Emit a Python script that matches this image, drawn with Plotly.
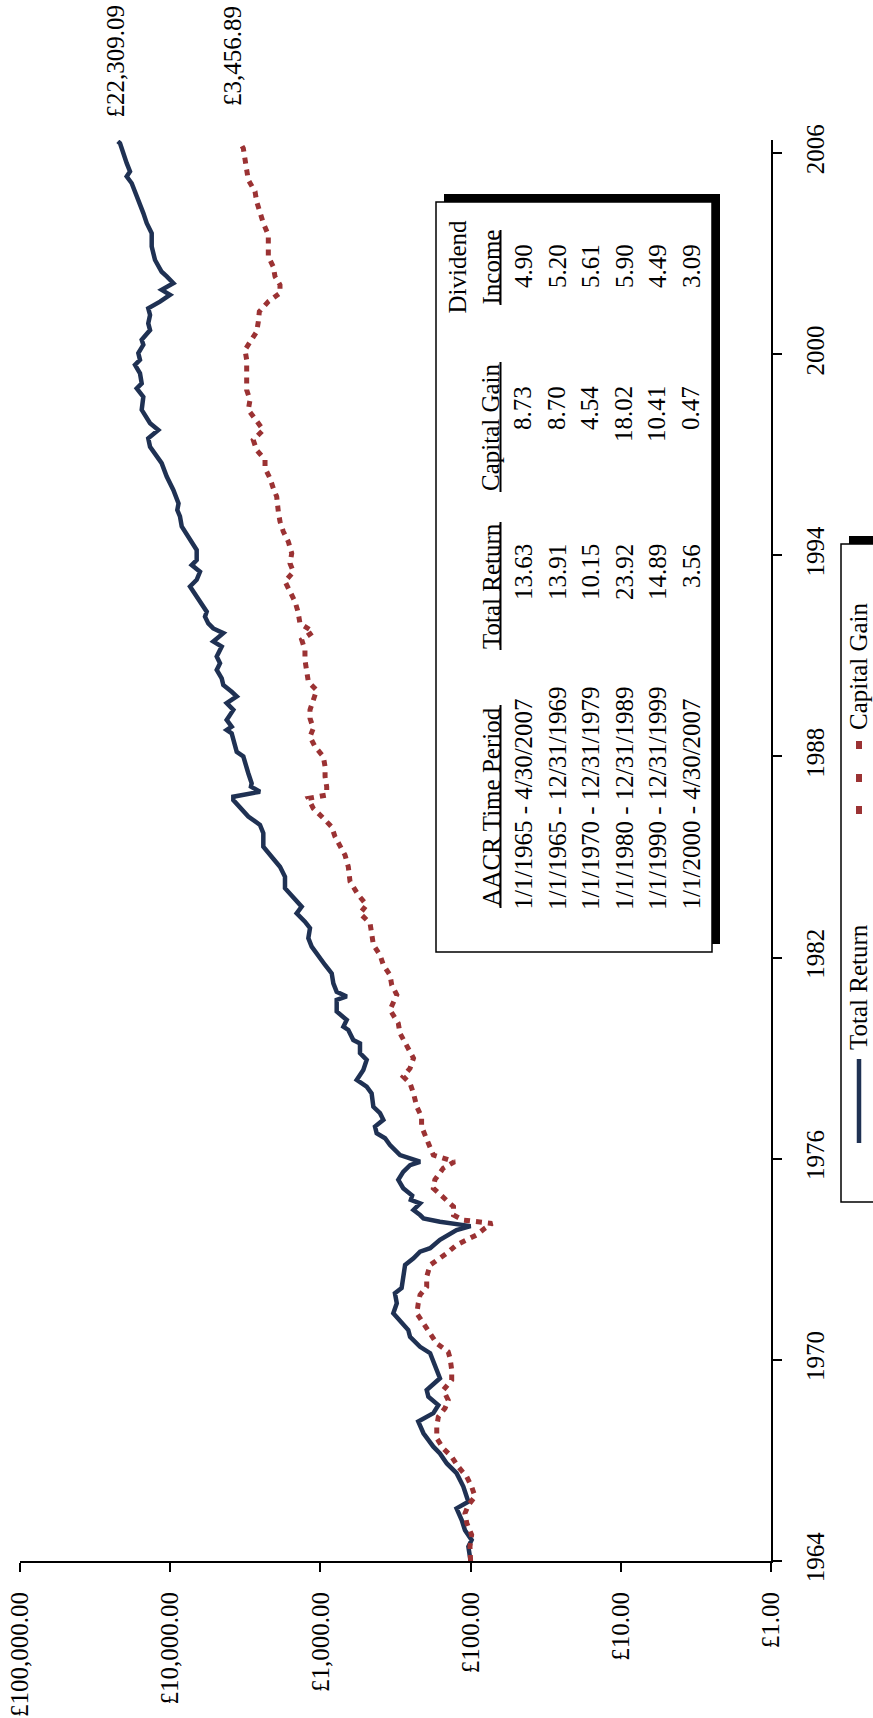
import plotly.graph_objects as go

# ---------------- data ----------------
tr_years = [1964.00, 1964.43, 1964.63, 1964.92, 1965.22, 1965.57, 1965.77, 1966.22, 1966.62, 1966.91,
            1967.21, 1967.41, 1967.81, 1968.16, 1968.41, 1968.65, 1968.90, 1969.10, 1969.45, 1970.00,
            1970.20, 1970.39, 1970.69, 1970.89, 1971.19, 1971.39, 1971.69, 1971.99, 1972.14, 1972.48,
            1972.83, 1973.03, 1973.23, 1973.33, 1973.58, 1973.87, 1973.99, 1974.12, 1974.22, 1974.32,
            1974.47, 1974.67, 1974.77, 1974.90, 1975.12, 1975.37, 1975.61, 1975.81, 1975.91, 1976.01,
            1976.11, 1976.41, 1976.61, 1976.76, 1976.96, 1977.16, 1977.36, 1977.55, 1977.95, 1978.15,
            1978.35, 1978.65, 1978.95, 1979.15, 1979.44, 1979.54, 1979.84, 1979.94, 1980.14, 1980.39,
            1980.74, 1980.84, 1980.98, 1981.23, 1981.53, 1981.78, 1982.08, 1982.33, 1982.58, 1982.88,
            1983.07, 1983.32, 1983.52, 1983.82, 1984.07, 1984.41, 1984.71, 1984.95, 1985.31, 1985.71,
            1985.96, 1986.21, 1986.46, 1986.70, 1986.80, 1986.95, 1987.10, 1987.20, 1987.50, 1987.70,
            1988.00, 1988.14, 1988.49, 1988.69, 1988.79, 1988.89, 1989.09, 1989.39, 1989.59, 1989.79,
            1989.93, 1990.13, 1990.33, 1990.58, 1990.78, 1990.98, 1991.28, 1991.43, 1991.68, 1991.82,
            1991.97, 1992.17, 1992.32, 1992.62, 1992.82, 1993.07, 1993.27, 1993.51, 1993.71, 1993.86,
            1994.16, 1994.46, 1994.66, 1994.86, 1995.16, 1995.35, 1995.55, 1995.70, 1995.95, 1996.35,
            1996.75, 1997.24, 1997.49, 1997.74, 1997.94, 1998.34, 1998.73, 1998.98, 1999.13, 1999.43,
            1999.68, 1999.83, 2000.03, 2000.28, 2000.43, 2000.72, 2000.92, 2001.17, 2001.37, 2001.57,
            2001.77, 2001.92, 2002.12, 2002.32, 2002.46, 2002.81, 2003.21, 2003.61, 2003.91, 2004.21,
            2004.60, 2004.80, 2005.10, 2005.30, 2005.45, 2005.70, 2006.00, 2006.29, 2006.35]
tr_values = [100, 103.5, 98.4, 109, 114.6, 124, 103.5, 111.8, 124, 144,
             160, 177, 206, 223, 177, 164, 191, 196, 160, 177,
             186, 217, 253, 260, 295, 327, 310, 319, 288, 281,
             273, 240, 217, 186, 160, 124, 100, 160, 206, 217,
             240, 217, 250, 245, 281, 303, 281, 253, 217, 253,
             295, 344, 371, 422, 433, 381, 401, 444, 456, 492,
             573, 518, 492, 545, 545, 604, 652, 703, 668, 779,
             779, 668, 779, 820, 841, 931, 1033, 1143, 1203, 1173,
             1267, 1439, 1332, 1514, 1721, 1721, 1858, 2059, 2399, 2399,
             2525, 3020, 3430, 3800, 3800, 2525, 2900, 2868, 3020, 3096,
             3260, 3606, 3800, 3896, 4207, 3896, 4207, 3800, 4207, 3606,
             3896, 4430, 4540, 4900, 4660, 4900, 4540, 5165, 4430, 5165,
             5575, 5866, 5715, 6335, 6663, 7380, 6663, 6335, 7190, 6663,
             6663, 7380, 7766, 8380, 8610, 8970, 8800, 9050, 9530, 10550,
             11400, 13620, 14000, 12000, 13620, 15480, 15100, 16700, 15480, 15890,
             17150, 15890, 16300, 15100, 15480, 13620, 14000, 13620, 14000, 11690,
             10030, 11400, 9530, 10550, 11400, 12620, 13280, 13280, 14330, 15100,
             16300, 17150, 18040, 19480, 18520, 19480, 20510, 21580, 22309.09]

cg_years = [1964.00, 1964.43, 1964.78, 1965.13, 1965.42, 1965.67, 1965.92, 1966.22, 1966.51, 1966.81,
            1967.11, 1967.36, 1967.66, 1968.01, 1968.30, 1968.56, 1968.80, 1969.10, 1969.40, 1969.70,
            1970.05, 1970.24, 1970.49, 1970.79, 1971.09, 1971.39, 1971.69, 1971.94, 1972.18, 1972.48,
            1972.83, 1973.03, 1973.18, 1973.43, 1973.58, 1973.73, 1973.93, 1974.07, 1974.17, 1974.32,
            1974.57, 1974.77, 1974.87, 1975.12, 1975.37, 1975.72, 1975.91, 1976.11, 1976.46, 1976.96,
            1977.25, 1977.55, 1977.95, 1978.25, 1978.45, 1978.70, 1979.00, 1979.29, 1979.74, 1980.04,
            1980.44, 1980.89, 1981.18, 1981.48, 1981.78, 1982.08, 1982.38, 1982.73, 1983.02, 1983.32,
            1983.57, 1983.87, 1984.27, 1984.71, 1985.06, 1985.61, 1985.90, 1986.16, 1986.45, 1986.75,
            1986.85, 1987.10, 1987.40, 1987.70, 1988.00, 1988.29, 1988.59, 1988.84, 1989.14, 1989.39,
            1989.69, 1989.98, 1990.23, 1990.58, 1990.88, 1991.18, 1991.48, 1991.72, 1991.97, 1992.32,
            1992.62, 1992.92, 1993.22, 1993.51, 1993.76, 1994.06, 1994.41, 1994.71, 1995.01, 1995.30,
            1995.60, 1995.75, 1996.00, 1996.30, 1996.60, 1996.85, 1997.14, 1997.44, 1997.74, 1998.04,
            1998.34, 1998.64, 1998.93, 1999.23, 1999.53, 1999.83, 2000.13, 2000.37, 2000.67, 2000.97,
            2001.27, 2001.57, 2001.82, 2002.07, 2002.32, 2002.61, 2002.91, 2003.26, 2003.56, 2003.91,
            2004.21, 2004.55, 2004.85, 2005.20, 2005.50, 2005.80, 2006.14, 2006.35]
cg_values = [100, 101, 98.4, 106, 109, 103.5, 93.5, 98.4, 106, 120.7,
             133.6, 152, 168, 168, 164, 148, 141, 152, 133.6, 133.6,
             137, 141, 168, 186, 206, 228, 223, 217, 196, 196,
             186, 160, 144, 124, 106, 91, 80, 72, 111.8, 130,
             130, 144, 152, 177, 173, 152, 128, 177, 191, 212,
             212, 228, 240, 253, 281, 253, 240, 260, 295, 303,
             344, 310, 335, 344, 381, 401, 444, 456, 467, 545,
             492, 560, 635, 652, 686, 800, 841, 957, 1115, 1203,
             908, 908, 931, 931, 957, 1086, 1173, 1115, 1173, 1173,
             1115, 1059, 1203, 1234, 1267, 1267, 1332, 1115, 1368, 1410,
             1476, 1593, 1721, 1514, 1593, 1552, 1636, 1766, 1858, 1906,
             1954, 1954, 2059, 2166, 2337, 2337, 2656, 2799, 2399, 2724,
             3020, 2942, 3096, 3096, 3096, 3096, 3178, 2942, 2656, 2590,
             2550, 2222, 1858, 1858, 2006, 2059, 2222, 2222, 2222, 2399,
             2525, 2656, 2724, 3020, 3096, 3178, 3260, 3456.89]

series_names = ['Total Return', 'Capital Gain']
end_labels = ['£22,309.09', '£3,456.89']

value_ticks = [1, 10, 100, 1000, 10000, 100000]
value_tick_labels = ['£1.00', '£10.00', '£100.00', '£1,000.00', '£10,000.00', '£100,000.00']
year_ticks = [1964, 1970, 1976, 1982, 1988, 1994, 2000, 2006]

table_headers = ['AACR Time Period', 'Total Return', 'Capital Gain', 'Income']
table_header_top = 'Dividend'
table_periods = ['1/1/1965 - 4/30/2007', '1/1/1965 - 12/31/1969', '1/1/1970 - 12/31/1979',
                 '1/1/1980 - 12/31/1989', '1/1/1990 - 12/31/1999', '1/1/2000 - 4/30/2007']
table_total = ['13.63', '13.91', '10.15', '23.92', '14.89', '3.56']
table_capital = ['8.73', '8.70', '4.54', '18.02', '10.41', '0.47']
table_dividend = ['4.90', '5.20', '5.61', '5.90', '4.49', '3.09']

# ---------------- layout helpers (pixel -> paper) ----------------
W, H = 873, 1718
L, R, T, B = 20, 771, 140, 1561
FONT = 'Liberation Serif'
NAVY = '#1f3153'
RED = '#9b3233'


def fx(px):
    return (px - L) / (R - L)


def fy(py):
    return (B - py) / (B - T)


fig = go.Figure()
fig.add_trace(go.Scatter(x=tr_values, y=tr_years, mode='lines', name=series_names[0],
                         line=dict(color=NAVY, width=4.5), showlegend=False, hoverinfo='skip'))
fig.add_trace(go.Scatter(x=cg_values, y=cg_years, mode='lines', name=series_names[1],
                         line=dict(color=RED, width=5, dash='6px,6px'), showlegend=False,
                         hoverinfo='skip'))

shapes = []
annotations = []


def rtext(text, px, py, xanchor='center', yanchor='middle', size=25):
    annotations.append(dict(text=text, x=fx(px), y=fy(py), xref='paper', yref='paper',
                            showarrow=False, textangle=-90, xanchor=xanchor, yanchor=yanchor,
                            font=dict(family=FONT, size=size, color='black')))


def rect(x0, y0, x1, y1, fill, lw=0, lc='black'):
    shapes.append(dict(type='rect', xref='paper', yref='paper', x0=fx(x0), x1=fx(x1),
                       y0=fy(y0), y1=fy(y1), fillcolor=fill,
                       line=dict(width=lw, color=lc), layer='above'))


def vline(px, py0, py1, color='black', width=2, dash='solid'):
    shapes.append(dict(type='line', xref='paper', yref='paper', x0=fx(px), x1=fx(px),
                       y0=fy(py0), y1=fy(py1), line=dict(color=color, width=width, dash=dash),
                       layer='above'))


# end-value labels
rtext(end_labels[0], 115, 120, yanchor='bottom')
rtext(end_labels[1], 232, 108, yanchor='bottom')

# table box with shadow
rect(444, 194, 720, 944, 'black')
rect(436, 202, 712, 952, 'white', lw=1.5)

row_x = [523, 557, 590, 624, 657, 691]
header_x = 491
rtext(table_headers[0], header_x, 909, yanchor='bottom')
rtext(table_headers[1], header_x, 586)
rtext(table_headers[2], header_x, 427)
rtext(table_header_top, 457, 266.5)
rtext(table_headers[3], header_x, 267.5)
vline(500.5, 705, 908)
vline(500.5, 522, 650)
vline(500.5, 362, 492)
vline(500.5, 230, 305)
for i, x in enumerate(row_x):
    rtext(table_periods[i], x, 912, yanchor='bottom')
    rtext(table_total[i], x, 542, yanchor='top')
    rtext(table_capital[i], x, 384, yanchor='top')
    rtext(table_dividend[i], x, 242, yanchor='top')

# legend box with shadow (runs off the right edge)
rect(849, 536, 900, 1194, 'black')
rect(841, 544, 900, 1202, 'white', lw=1.5)
vline(859, 1059, 1143, color=NAVY, width=4.5)
rtext(series_names[0], 858, 1052, yanchor='bottom')
for cy in [745, 778, 810]:
    rect(856, cy - 4, 862, cy + 4, RED)
rtext(series_names[1], 858, 732, yanchor='bottom')

fig.update_layout(
    width=W, height=H,
    margin=dict(l=L, r=W - R, t=T, b=H - B, pad=0),
    paper_bgcolor='white', plot_bgcolor='white',
    showlegend=False,
    shapes=shapes, annotations=annotations,
    xaxis=dict(type='log', range=[5, 0], tickvals=value_ticks, ticktext=value_tick_labels,
               tickangle=-90, ticks='outside', ticklen=9, tickwidth=2, tickcolor='black',
               showline=True, linewidth=2, linecolor='black', showgrid=False, zeroline=False,
               tickfont=dict(family=FONT, size=25, color='black'), automargin=False,
               ticklabelstandoff=10),
    yaxis=dict(range=[1964, 2006.39], side='right', tickvals=year_ticks,
               tickangle=-90, ticks='outside', ticklen=9, tickwidth=2, tickcolor='black',
               showline=True, linewidth=2, linecolor='black', showgrid=False, zeroline=False,
               tickfont=dict(family=FONT, size=25, color='black'), automargin=False,
               ticklabelstandoff=12),
)

fig.write_html("out.html", config={'displayModeBar': False},
               post_script="document.body.style.margin='0px';")
